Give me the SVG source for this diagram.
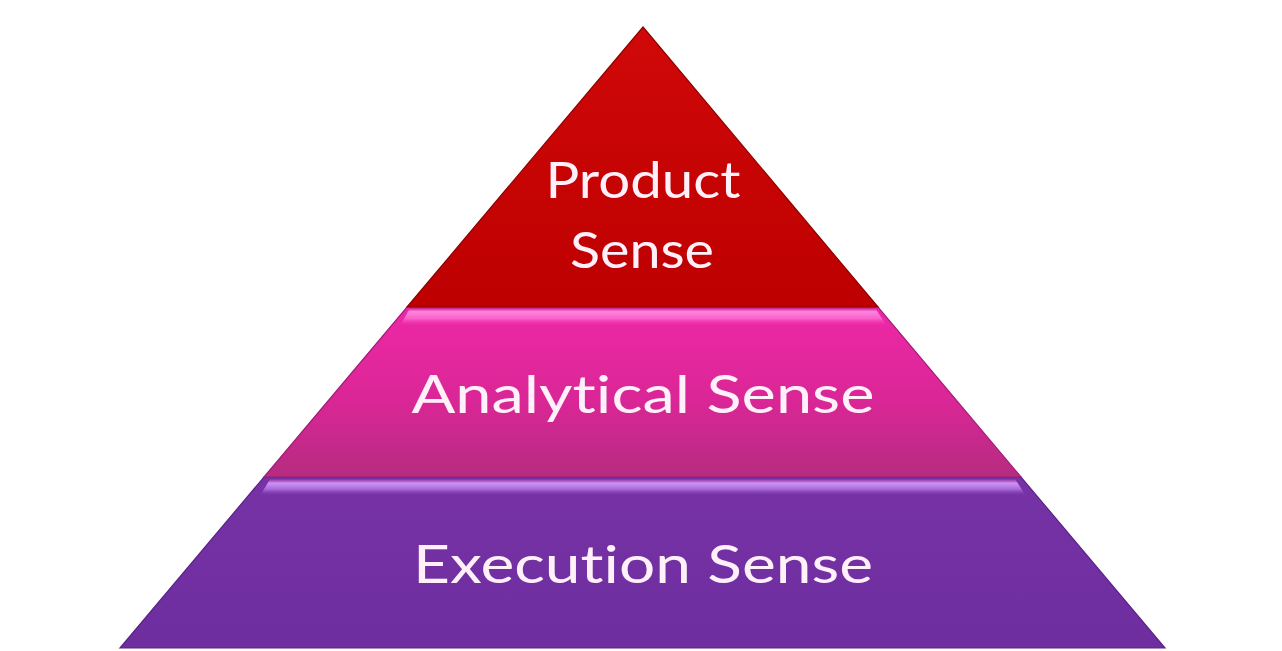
<svg xmlns="http://www.w3.org/2000/svg" width="1282" height="651" viewBox="0 0 1282 651">
<defs>
<linearGradient id="gTop" x1="0" y1="0" x2="0" y2="1">
<stop offset="0" stop-color="#D00808"/>
<stop offset="1" stop-color="#BE0000"/>
</linearGradient>
<linearGradient id="gMid" x1="0" y1="0" x2="0" y2="1">
<stop offset="0" stop-color="#EE28A6"/>
<stop offset="0.55" stop-color="#DA2696"/>
<stop offset="1" stop-color="#B52C80"/>
</linearGradient>
<linearGradient id="gBot" x1="0" y1="0" x2="0" y2="1">
<stop offset="0" stop-color="#7632A6"/>
<stop offset="1" stop-color="#6E2E9E"/>
</linearGradient>
<linearGradient id="hlMid" x1="0" y1="0" x2="0" y2="1">
<stop offset="0" stop-color="#C81C8A"/>
<stop offset="0.2" stop-color="#FF84DE"/>
<stop offset="0.6" stop-color="#F860C8"/>
<stop offset="1" stop-color="#EE28A6" stop-opacity="0"/>
</linearGradient>
<linearGradient id="hlBot" x1="0" y1="0" x2="0" y2="1">
<stop offset="0" stop-color="#8A2A9A"/>
<stop offset="0.25" stop-color="#CE92F4"/>
<stop offset="0.6" stop-color="#AA6ADA"/>
<stop offset="1" stop-color="#7632A6" stop-opacity="0"/>
</linearGradient>
<style>
.lbl{font-family:"Lato","Open Sans","Liberation Sans",sans-serif;fill:#FFF0FA;text-anchor:middle;font-variant-ligatures:none;font-feature-settings:"liga" 0;}
</style>
</defs>
<rect width="1282" height="651" fill="#FFFFFF"/>
<g id="bottom-layer">
<polygon points="264,477 1021,477 1165,648 120,648" fill="url(#gBot)" stroke="#5A2288" stroke-width="1.2"/>
<polygon points="270,479 1015,479 1026,496 260,496" fill="url(#hlBot)"/>
<text class="lbl" x="643" y="583" font-size="53" textLength="460" lengthAdjust="spacingAndGlyphs">Execution Sense</text>
</g>
<g id="middle-layer">
<polygon points="407,307 878,307 1021,477 264,477" fill="url(#gMid)" stroke="#A01C78" stroke-width="1.2"/>
<polygon points="410,308 875,308 887,326 400,326" fill="url(#hlMid)"/>
<text class="lbl" x="643" y="413" font-size="53" textLength="463" lengthAdjust="spacingAndGlyphs">Analytical Sense</text>
</g>
<g id="top-layer">
<polygon points="643,27 878,307 407,307" fill="url(#gTop)" stroke="#8E0000" stroke-width="1.2"/>
<text class="lbl" x="643" y="198" font-size="51" textLength="195" lengthAdjust="spacingAndGlyphs">Product</text>
<text class="lbl" x="642" y="268" font-size="51" textLength="144" lengthAdjust="spacingAndGlyphs">Sense</text>
</g>
<g id="connectors"/>
</svg>
